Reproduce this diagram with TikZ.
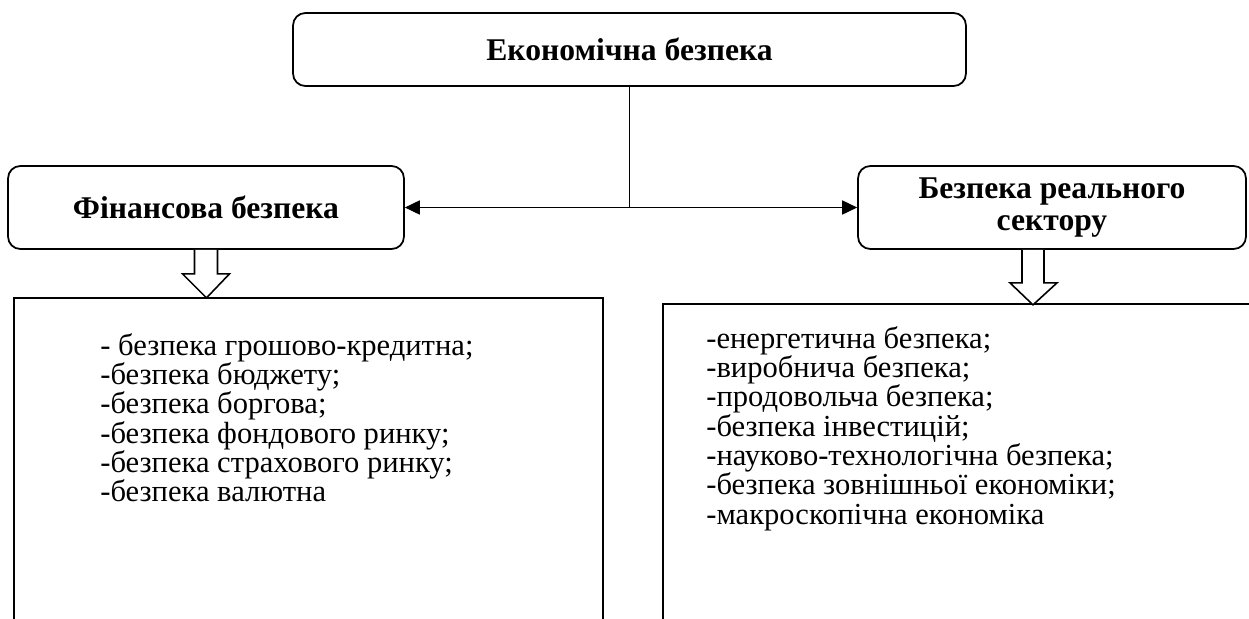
\documentclass[tikz,border=0pt]{standalone}
\usepackage{fontspec}
\setmainfont{Liberation Serif}
\usetikzlibrary{positioning, calc, arrows.meta}
\tikzstyle{title} = [rectangle, rounded corners=7pt, draw=black, line width=1pt, align=center, font=\fontsize{18}{18.7}\selectfont\bfseries]
\tikzstyle{listbox} = [rectangle, draw=black, line width=1pt]
\tikzstyle{items} = [align=left, inner sep=0pt, font=\fontsize{17.4}{16.7}\selectfont]
\tikzstyle{arrow} = [line width=0.8pt, -{Triangle[length=8.5pt, width=8pt]}]
\tikzstyle{hollow} = [line width=0.9pt, fill=white]

\begin{document}
\begin{tikzpicture}[x=0.02cm, y=-0.02cm]
\clip (0,0) rectangle (1249,619);
\fill[white] (0,0) rectangle (1249,619);

% Main blocks
\node (econ) [title, minimum width=13.46cm, minimum height=1.46cm] at (629.5,49.5) {Економічна безпека};
\node (fin) [title, minimum width=7.92cm, minimum height=1.66cm] at (206,207.5) {Фінансова безпека};
\node (real) [title, minimum width=7.76cm, minimum height=1.66cm] at (1052,207.5) {Безпека реального\\сектору};

% Lists
\node (finbox) [listbox, minimum width=11.78cm, minimum height=8.04cm] at (308.5,499) {};
\node (realbox) [listbox, minimum width=11.94cm, minimum height=7.92cm] at (961.5,502) {};
\node (finlist) [items, anchor=north west] at (100,333) {- безпека грошово-кредитна;\\-безпека бюджету;\\-безпека боргова;\\-безпека фондового ринку;\\-безпека страхового ринку;\\-безпека валютна};
\node (reallist) [items, anchor=north west] at (706,326) {-енергетична безпека;\\-виробнича безпека;\\-продовольча безпека;\\-безпека інвестицій;\\-науково-технологічна безпека;\\-безпека зовнішньої економіки;\\-макроскопічна економіка};

% Arrows
\coordinate (mid) at (econ.south |- fin.east);
\draw [line width=0.8pt] (econ) -- (mid);
\draw [arrow] (mid) -- (fin);
\draw [arrow] (mid) -- (real);
\draw [hollow] ($(fin.south)+(-11.5,0)$) -- ++(0,24) -- ++(-12,0) -- ++(24,24) -- ++(23,-24) -- ++(-12,0) -- ++(0,-24);
\draw [hollow] ($(real.south)+(-30,0)$) -- ++(0,33) -- ++(-12,0) -- ++(23,22) -- ++(24,-22) -- ++(-13,0) -- ++(0,-33);

\end{tikzpicture}
\end{document}
